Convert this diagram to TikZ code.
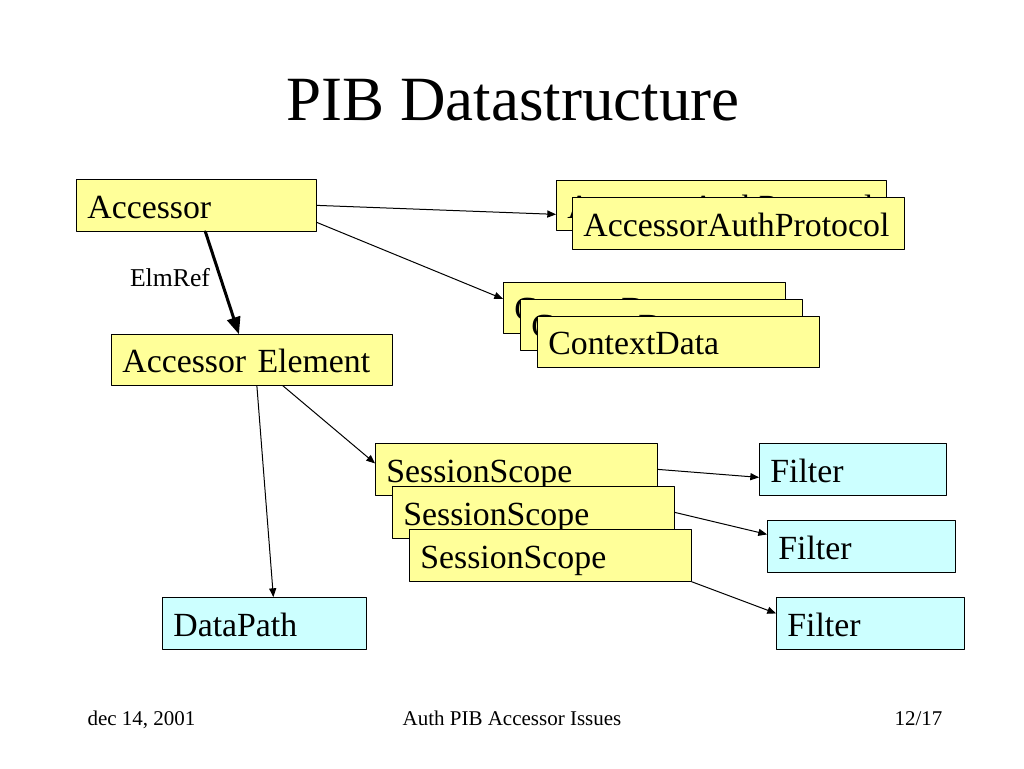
\documentclass[tikz,border=0pt]{standalone}
\usepackage{fontspec}
\setmainfont{Liberation Serif}
\usetikzlibrary{arrows}
\definecolor{boxyellow}{RGB}{255,255,153}
\definecolor{boxcyan}{RGB}{204,255,255}
\begin{document}
\begin{tikzpicture}[line cap=round,line join=round,>=triangle 45,x=1pt,y=-1pt,
	ybox/.style={draw=black,line width=0.75pt,fill=boxyellow,anchor=north west,minimum height=52pt,inner xsep=11pt,text height=28pt,text depth=2pt,align=left,font=\fontsize{33.8}{40}\selectfont},
	cbox/.style={ybox,fill=boxcyan}]
		\useasboundingbox (0,0) rectangle (1024,768);
		\node[anchor=base,font=\fontsize{63}{70}\selectfont] (title) at (513,120) {PIB Datastructure};
		\node[ybox,text width=218pt] (acc) at (76,179) {Accessor};
		\node[ybox,text width=308pt,minimum height=50pt] (authA) at (556,180) {AccessorAuthProtocol};
		\node[ybox,text width=310pt] (authB) at (572,197) {AccessorAuthProtocol};
		\node[ybox,text width=260pt,minimum height=51pt] (ctxA) at (503,282) {ContextData};
		\node[ybox,text width=260pt,minimum height=51pt] (ctxB) at (520,299) {ContextData};
		\node[ybox,text width=260pt,minimum height=51pt] (ctxC) at (537,316) {ContextData};
		\node[ybox,text width=259pt,minimum height=51pt] (accelem) at (111,334) {Accessor Element};
		\node[ybox,text width=260pt] (scopeA) at (375,443) {SessionScope};
		\node[ybox,text width=260pt] (scopeB) at (392,486) {SessionScope};
		\node[ybox,text width=260pt] (scopeC) at (409,529) {SessionScope};
		\node[cbox,text width=165pt] (filterA) at (759,443) {Filter};
		\node[cbox,text width=166pt] (filterB) at (767,520) {Filter};
		\node[cbox,text width=166pt] (filterC) at (776,597) {Filter};
		\node[cbox,text width=182pt] (datapath) at (162,597) {DataPath};
		\node[anchor=base,font=\fontsize{25.7}{30}\selectfont] (elmref) at (170,286) {ElmRef};
		\draw [->,line width=1pt] (acc.east)-- ([yshift=-9pt]authA.west);
		\draw [->,line width=1pt] ([yshift=-17pt]acc.east)-- ([yshift=9pt]ctxA.west);
		\draw [->,line width=3pt] ([xshift=9pt]acc.south)-- ([xshift=-13pt]accelem.north);
		\draw [->,line width=1pt] ([xshift=31pt]accelem.south)-- ([yshift=6pt]scopeA.west);
		\draw [->,line width=1pt] ([xshift=5pt]accelem.south)-- ([xshift=9pt]datapath.north);
		\draw [->,line width=1pt] (scopeA.east)-- ([yshift=-8pt]filterA.west);
		\draw [->,line width=1pt] (scopeB.east)-- ([yshift=12pt]filterB.west);
		\draw [->,line width=1pt] (scopeC.south east)-- ([yshift=10pt]filterC.west);
		\begin{scope}[font=\fontsize{21}{25}\selectfont]
			\node[anchor=base west] (date) at (84,725) {dec 14, 2001};
			\node[anchor=base] (footer) at (512,725) {Auth PIB Accessor Issues};
			\node[anchor=base east] (page) at (946,725) {12/17};
		\end{scope}
	\end{tikzpicture}
\end{document}
